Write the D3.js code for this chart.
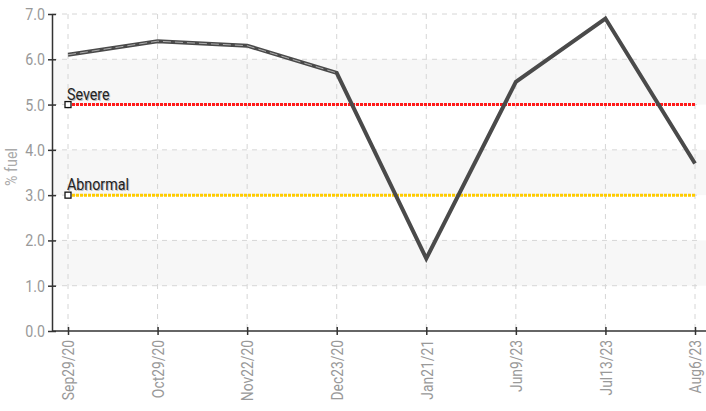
<!DOCTYPE html>
<html><head><meta charset="utf-8">
<script src="https://cdn.jsdelivr.net/npm/d3@7"></script>
<style>
body{margin:0;background:#fff;}
svg{display:block;font-family:Roboto,"DejaVu Sans Condensed",sans-serif;}
</style></head>
<body><svg id="c" width="706" height="411"></svg>
<script>
const categories = ["Sep29/20","Oct29/20","Nov22/20","Dec23/20","Jan21/21","Jun9/23","Jul13/23","Aug6/23"];
const fuelValues = [6.1, 6.4, 6.3, 5.7, 1.6, 5.5, 6.9, 3.7];
const yTicks = [0,1,2,3,4,5,6,7];
const thresholdNames = ["Severe","Abnormal"];
const thresholdValues = [5.0, 3.0];
const thresholdColors = ["#ff1a1a","#ffcc00"];

(function(){
const svg = d3.select("#c");
const pLeft = 52, pTop = 14, pBottom = 331, pRight = 706;
const sx = 0.84;
const x = d3.scalePoint().domain(categories).range([68, 695]);
const y = d3.scaleLinear().domain([0,7]).range([pBottom, pTop]);

const bands = d3.range(0,7).filter(i => i % 2 === 1);
svg.append("g").selectAll("rect").data(bands).join("rect")
  .attr("x", pLeft).attr("width", pRight-pLeft)
  .attr("y", d => y(d+1)).attr("height", d => y(d)-y(d+1))
  .attr("fill","#f7f7f7");

svg.append("g").selectAll("line").data(yTicks.slice(1)).join("line")
  .attr("x1", pLeft).attr("x2", pRight-4).attr("y1", d=>y(d)).attr("y2", d=>y(d))
  .attr("stroke","#d6d6d6").attr("stroke-dasharray","5,5").attr("stroke-width",1);
svg.append("g").selectAll("line").data(categories).join("line")
  .attr("x1", d=>x(d)).attr("x2", d=>x(d)).attr("y1", pTop).attr("y2", pBottom)
  .attr("stroke","#d6d6d6").attr("stroke-dasharray","5,5").attr("stroke-width",1);

const yAxis = svg.append("g").attr("transform",`translate(${pLeft},0)`)
  .call(d3.axisLeft(y).tickValues(yTicks).tickFormat(d3.format(".1f")).tickSizeInner(4).tickSizeOuter(0));
yAxis.select(".domain").attr("stroke","#333").attr("stroke-width",1.5);
yAxis.selectAll(".tick line").attr("stroke","#333").attr("stroke-width",1.5).attr("x1",4).attr("x2",-4);
yAxis.selectAll(".tick text").attr("fill","#999").attr("font-size",17)
  .attr("font-family","Roboto,sans-serif")
  .attr("x",-7/sx).attr("transform",`scale(${sx},1)`);

const xAxis = svg.append("g").attr("transform",`translate(0,${pBottom})`)
  .call(d3.axisBottom(x).tickSizeInner(4).tickSizeOuter(0));
xAxis.select(".domain").attr("d",`M${pLeft},0H${pRight}`).attr("stroke","#333").attr("stroke-width",1.5);
xAxis.selectAll(".tick line").attr("stroke","#333").attr("stroke-width",1.5).attr("y1",-4).attr("y2",4);
xAxis.selectAll(".tick text").attr("fill","#999").attr("font-size",16.5)
  .attr("font-family","Roboto,sans-serif")
  .attr("transform",`rotate(-90) scale(${sx},1)`).attr("text-anchor","end")
  .attr("x",-9/sx).attr("y",0).attr("dy","0.35em");

svg.append("text").attr("transform",`translate(17,167) rotate(-90) scale(${sx},1)`)
  .attr("text-anchor","middle").attr("fill","#aaa").attr("font-size",17).text("% fuel");

thresholdNames.forEach((name,i) => {
  const g = svg.append("g");
  const yy = y(thresholdValues[i]);
  g.append("line").attr("x1", x(categories[0])).attr("x2", x(categories[categories.length-1]))
    .attr("y1", yy).attr("y2", yy).attr("stroke", thresholdColors[i]).attr("stroke-width",3)
    .attr("stroke-dasharray","3,1");
  g.append("rect").attr("x", x(categories[0])-3).attr("y", yy-3).attr("width",6).attr("height",6)
    .attr("fill","#fff").attr("stroke","#111").attr("stroke-width",1.3);
  const tx = (x(categories[0])-1)/sx;
  g.append("text").attr("x", tx).attr("y", yy-5).attr("fill","#bbb").attr("font-size",17)
    .attr("transform",`translate(1,1) scale(${sx},1)`).text(name);
  g.append("text").attr("x", tx).attr("y", yy-5).attr("fill","#222").attr("font-size",17)
    .attr("transform",`scale(${sx},1)`).text(name);
});

const line = d3.line().x((d,i)=>x(categories[i])).y(d=>y(d));
svg.append("path").datum(fuelValues).attr("d", line).attr("fill","none")
  .attr("stroke","#4a4a4a").attr("stroke-width",4).attr("stroke-linejoin","miter");
svg.append("path").datum(fuelValues.slice(0,4)).attr("d", line).attr("fill","none")
  .attr("stroke","#fff").attr("stroke-opacity",0.55).attr("stroke-width",1).attr("stroke-dasharray","8,4");
})();
</script></body></html>
